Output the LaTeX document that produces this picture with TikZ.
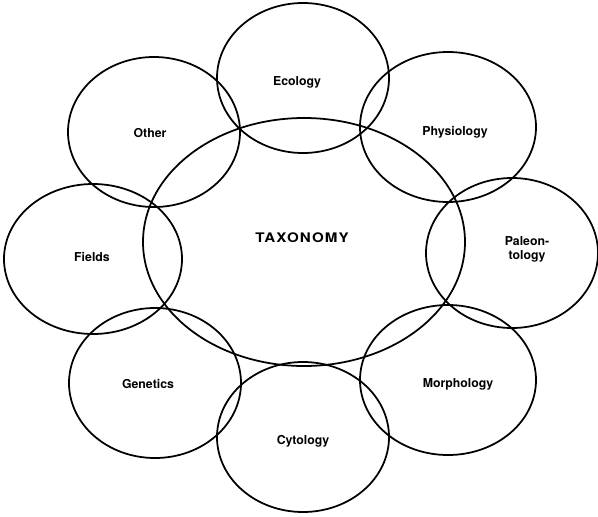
\documentclass[tikz,border=0pt]{standalone}
\usepackage{fontspec}
\setsansfont{TeX Gyre Heros}
\usepackage{tikz}

\begin{document}
\begin{tikzpicture}[line width=1pt,
    lbl/.style={font=\sffamily\bfseries\fontsize{7}{8}\selectfont, align=center, inner sep=1pt}]
  \useasboundingbox (0,0) rectangle (11.96,10.32);

  % --- Central field ---
  \draw (6.08,5.48) ellipse [x radius=3.22, y radius=2.48];
  \node[lbl, font=\sffamily\bfseries\fontsize{7.5}{9}\selectfont\addfontfeatures{FakeStretch=1.15,LetterSpace=8}]
    (taxonomy) at (6.04,5.56) {TAXONOMY};

  % --- Surrounding fields (centre x / centre y / x radius) ---
  \foreach \cx/\cy/\rx in {6.06/8.76/1.72, 8.96/7.78/1.76, 10.24/5.26/1.72, 8.96/2.72/1.76,
                           6.06/1.58/1.72, 3.10/2.66/1.72, 1.86/5.14/1.78, 3.08/7.68/1.72} {
    \draw (\cx,\cy) ellipse [x radius=\rx, y radius=1.5];
  }

  % Labels of the surrounding fields
  \foreach \n/\x/\y/\t in {ecology/5.94/8.68/Ecology, physiology/9.10/7.68/Physiology,
                           morphology/9.16/2.64/Morphology, cytology/6.06/1.50/Cytology,
                           genetics/2.96/2.64/Genetics, fields/1.84/5.18/Fields,
                           other/3.00/7.66/Other} {
    \node[lbl] (\n) at (\x,\y) {\t};
  }
  \node[lbl] (paleontology) at (10.54,5.34) {Paleon-\\tology};
\end{tikzpicture}
\end{document}
